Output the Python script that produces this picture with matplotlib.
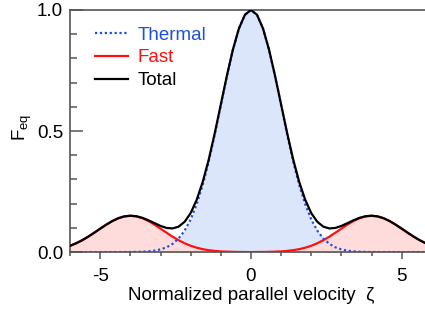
import matplotlib
matplotlib.use('Agg')
import numpy as np
import matplotlib.pyplot as plt
from matplotlib.ticker import MultipleLocator

plt.rcParams['font.family'] = ['Liberation Sans', 'DejaVu Sans']
plt.rcParams['axes.unicode_minus'] = False
plt.rcParams['mathtext.fontset'] = 'custom'
plt.rcParams['mathtext.rm'] = 'Liberation Sans'

# sample positions along zeta, step 0.2
zeta = np.round(np.arange(-6.0, 6.01, 0.2), 1)

# values
thermal = [0.0, 0.0, 0.0, 0.0, 0.0, 0.0, 0.0, 0.0,
           0.0001, 0.0001, 0.0003, 0.0007, 0.0015, 0.0031, 0.0060, 0.0111,
           0.0198, 0.0340, 0.0561, 0.0889, 0.135, 0.198, 0.278, 0.375,
           0.487, 0.607, 0.726, 0.835, 0.923, 0.980,
           1.0,
           0.980, 0.923, 0.835, 0.726, 0.607, 0.487,
           0.375, 0.278, 0.198, 0.135, 0.0889, 0.0561, 0.0340, 0.0198,
           0.0111, 0.0060, 0.0031, 0.0015, 0.0007, 0.0003, 0.0001, 0.0001,
           0.0, 0.0, 0.0, 0.0, 0.0, 0.0, 0.0, 0.0]
fast = [0.0261, 0.0364, 0.0490, 0.0637, 0.0800, 0.0969, 0.1134, 0.1282,
        0.1399, 0.1474, 0.150, 0.1474, 0.1399, 0.1282, 0.1134, 0.0969,
        0.0800, 0.0637, 0.0490, 0.0364, 0.0261, 0.0181, 0.0121, 0.0078,
        0.0049, 0.0029, 0.0017, 0.0010, 0.0005, 0.0003,
        0.0001,
        0.0003, 0.0005, 0.0010, 0.0017, 0.0029, 0.0049,
        0.0078, 0.0121, 0.0181, 0.0261, 0.0364, 0.0490, 0.0637, 0.0800,
        0.0969, 0.1134, 0.1282, 0.1399, 0.1474, 0.150, 0.1474, 0.1399,
        0.1282, 0.1134, 0.0969, 0.0800, 0.0637, 0.0490, 0.0364, 0.0261]
total = np.array(thermal) + np.array(fast)

blue = '#1f4fe0'
gray = '#555555'

fig = plt.figure(figsize=(4.25, 3.12), dpi=100)
ax = fig.add_axes([0.165, 0.192, 0.851, 0.776])

ax.fill_between(zeta, 0, thermal, color='#dce6fa', lw=0)
ax.fill_between(zeta, 0, fast, color='#ffdcdc', lw=0)
ax.plot(zeta, fast, color='#ff1010', lw=1.6, label='Fast', zorder=3)
ax.plot(zeta, thermal, color=blue, lw=1.6, ls=(0, (1, 1.2)), label='Thermal', zorder=4)
ax.plot(zeta, total, color='black', lw=1.6, label='Total', zorder=5)

ax.set_xlim(-6, 6)
ax.set_ylim(0, 1)
ax.xaxis.set_major_locator(MultipleLocator(5))
ax.xaxis.set_minor_locator(MultipleLocator(1))
ax.yaxis.set_major_locator(MultipleLocator(0.5))
ax.yaxis.set_minor_locator(MultipleLocator(0.1))
ax.yaxis.set_major_formatter(plt.FormatStrFormatter('%.1f'))

for s in ax.spines.values():
    s.set_color(gray)
    s.set_linewidth(1.2)
ax.tick_params(axis='y', which='major', direction='in', length=9.5, width=1.1,
               color=gray, labelsize=13.5, pad=5)
ax.tick_params(axis='y', which='minor', direction='in', length=5, width=1.1, color=gray)
ax.tick_params(axis='x', which='major', direction='out', length=5, width=1.1,
               color=gray, labelsize=13.5, pad=6.5)
ax.tick_params(axis='x', which='minor', direction='out', length=3, width=1.1, color=gray)

ax.set_xlabel('Normalized parallel velocity  \u03b6', fontsize=13.5)
ax.xaxis.set_label_coords(0.5, -0.145)
ax.set_ylabel(r'F$_\mathrm{eq}$', fontsize=13.5)
ax.yaxis.set_label_coords(-0.10, 0.515)

handles, labels = ax.get_legend_handles_labels()
order = [1, 0, 2]
leg = ax.legend([handles[i] for i in order], [labels[i] for i in order],
                loc='upper left', bbox_to_anchor=(0.2235, 0.915),
                bbox_transform=fig.transFigure, frameon=False, fontsize=13.5,
                handlelength=1.75, handletextpad=0.5, labelspacing=0.3,
                borderpad=0, borderaxespad=0)
for t, c in zip(leg.get_texts(), [blue, '#ff1010', 'black']):
    t.set_color(c)

fig.savefig('out.png', dpi=100)
